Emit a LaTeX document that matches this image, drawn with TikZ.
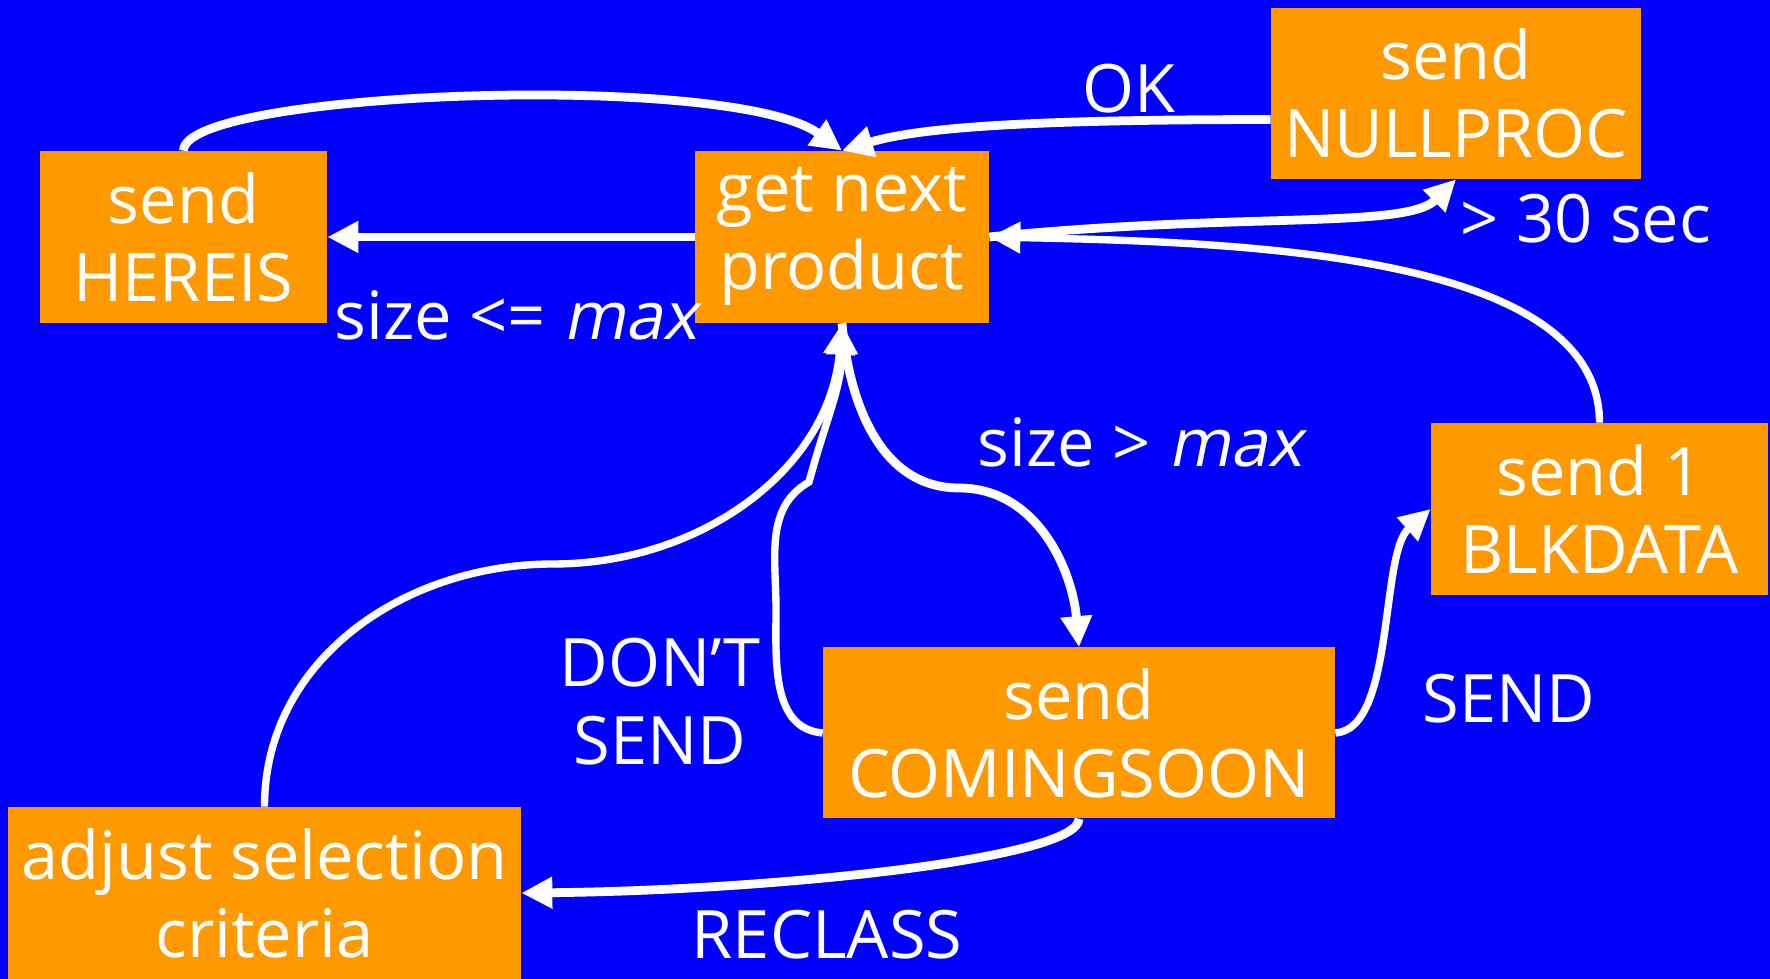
\documentclass[tikz,border=0pt]{standalone}
\usepackage{fontspec}
\setmainfont{Open Sans}[ItalicFont={Open Sans},ItalicFeatures={FakeSlant=0.2}]
\usetikzlibrary{arrows.meta}
\definecolor{slideblue}{RGB}{0,0,255}
\definecolor{boxorange}{RGB}{255,153,0}

\begin{document}
\begin{tikzpicture}[
    font=\fontsize{38}{44.4}\selectfont,
    box/.style={fill=boxorange, text=white, align=center, inner sep=0pt, minimum height=3.44cm},
    flow/.style={white, line width=5pt, -{Triangle[length=0.62cm,width=0.6cm]}},
    thinflow/.style={flow, line width=4.2pt},
    lbl/.style={text=white, align=center, inner sep=0pt}]
    \useasboundingbox (0,0) rectangle (35.4,19.58);
    \fill[slideblue] (0,0) rectangle (35.4,19.58);

    % states
    \node[box, minimum width=5.74cm] (hereis) at (3.67,14.84) {send\\HEREIS};
    \node[box, minimum width=5.88cm] (getnext) at (16.84,14.84) {get next\\product};
    \node[box, minimum width=7.40cm, minimum height=3.42cm] (nullproc) at (29.12,17.71) {send\\NULLPROC};
    \node[box, minimum width=6.74cm] (blkdata) at (31.99,9.40) {send 1\\BLKDATA};
    \node[box, minimum width=10.24cm, minimum height=3.42cm] (comingsoon) at (21.58,4.92) {send\\COMINGSOON};
    \node[box, minimum width=10.26cm] (adjust) at (5.29,1.72) {adjust selection\\criteria};

    % bends
    \coordinate (kinkright) at (19.18,9.82);
    \coordinate (loopleft) at (15.52,7.4);
    \coordinate (loopkink) at (16.18,9.94);
    \coordinate (adjustbend) at (11.06,8.3);

    % transitions
    \draw[flow] (getnext.west) -- (hereis.east);
    \draw[flow] (hereis.north) .. controls +(0,1.2) and +(-2.2,1.6) .. (getnext.north);
    \draw[flow] (nullproc.188) .. controls +(-5,0) and +(1.5,0.45) .. (getnext.north);
    \draw[flow] (getnext.east) .. controls +(5,0.5) and +(-1,-1) .. (nullproc.south);
    \draw[thinflow] (blkdata.north) .. controls +(0,3.4) and +(5,-0.1) .. (getnext.east);
    \draw[flow] (getnext.south) to[out=-85,in=180] (kinkright) to[out=0,in=95] (comingsoon.north);
    \draw[thinflow] (comingsoon.west) to[out=175,in=-90] (loopleft) to[out=90,in=210] (loopkink)
        to[out=75,in=-90] (getnext.south);
    \draw[thinflow] (adjust.north) to[out=90,in=180] (adjustbend) to[out=0,in=-95] (getnext.south);
    \draw[flow] (comingsoon.south) .. controls +(0,-0.8) and +(5,0.05) .. (adjust.east);
    \draw[thinflow] (comingsoon.east) .. controls +(1.2,0.08) and +(-1.02,-0.9) .. (blkdata.west);

    % labels
    \node[lbl] (okl) at (22.58,17.8) {OK};
    \node[lbl] (timeoutl) at (31.72,15.2) {> 30 sec};
    \node[lbl] (smalll) at (10.32,13.28) {size <= \textit{max}};
    \node[lbl] (bigl) at (22.80,10.74) {size > \textit{max}};
    \node[lbl] (dontl) at (13.2,5.54) {DON’T\\SEND};
    \node[lbl] (sendl) at (30.18,5.6) {SEND};
    \node[lbl] (reclassl) at (16.54,0.88) {RECLASS};
\end{tikzpicture}
\end{document}
